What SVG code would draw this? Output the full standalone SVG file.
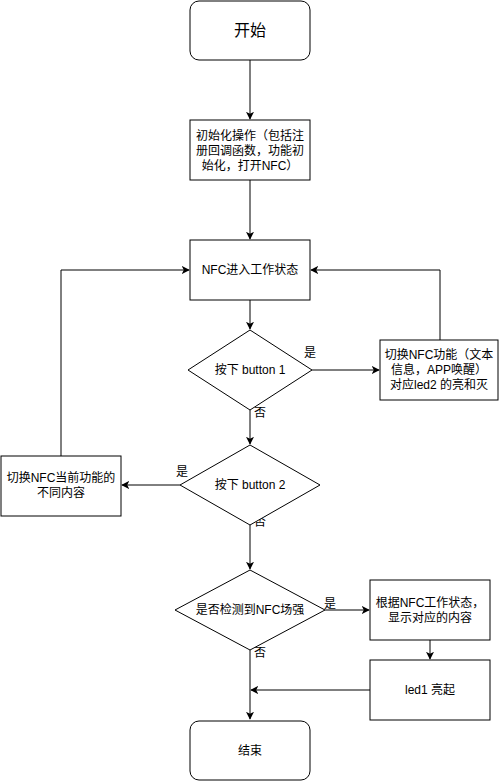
<svg xmlns="http://www.w3.org/2000/svg" width="501" height="781" viewBox="0 0 501 781">
<style>
.s{fill:#fff;stroke:#000;stroke-width:1}
.t{font-family:"Liberation Sans","Noto Sans CJK SC",sans-serif;font-size:12px;fill:#000;text-anchor:middle}
.c{fill:none;stroke:#000;stroke-width:1}
</style>
<defs>
<marker id="a" viewBox="0 0 10 10" refX="9" refY="5" markerWidth="8" markerHeight="8" markerUnits="userSpaceOnUse" orient="auto">
<path d="M0,0 L10,5 L0,10 L2.5,5 Z" fill="#000"/>
</marker>
</defs>
<g id="connectors">
<path class="c" d="M250,60 V119" marker-end="url(#a)"/>
<path class="c" d="M250,180 V239" marker-end="url(#a)"/>
<path class="c" d="M250,300 V329" marker-end="url(#a)"/>
<path class="c" d="M312,370 H379" marker-end="url(#a)"/>
<path class="c" d="M440,340 V270 H311" marker-end="url(#a)"/>
<path class="c" d="M250,410 V444" marker-end="url(#a)"/>
<path class="c" d="M180,485 H122" marker-end="url(#a)"/>
<path class="c" d="M61,456 V270 H189" marker-end="url(#a)"/>
<path class="c" d="M250,525 V569" marker-end="url(#a)"/>
<path class="c" d="M325,610 H369" marker-end="url(#a)"/>
<path class="c" d="M430,640 V659" marker-end="url(#a)"/>
<path class="c" d="M370,690 H251" marker-end="url(#a)"/>
<path class="c" d="M250,650 V719" marker-end="url(#a)"/>
<text class="t" x="310" y="357">是</text>
<text class="t" x="260" y="417">否</text>
<text class="t" x="182" y="476">是</text>
<text class="t" x="260" y="526">否</text>
<text class="t" x="330" y="608">是</text>
<text class="t" x="260" y="657">否</text>
</g>
<g id="start">
<rect class="s" x="190" y="1" width="120" height="59" rx="9"/>
<text class="t" x="250" y="36" style="font-size:16px">开始</text>
</g>
<g id="init">
<rect class="s" x="190" y="120" width="120" height="60"/>
<text class="t" x="250" y="140">初始化操作（包括注</text>
<text class="t" x="250" y="155">册回调函数，功能初</text>
<text class="t" x="250" y="170">始化，打开NFC）</text>
</g>
<g id="nfc">
<rect class="s" x="190" y="240" width="120" height="60"/>
<text class="t" x="250" y="274">NFC进入工作状态</text>
</g>
<g id="btn1">
<path class="s" d="M250,330 L312,370 L250,410 L188,370 Z"/>
<text class="t" x="250" y="374">按下 button 1</text>
</g>
<g id="switch1">
<rect class="s" x="380" y="340" width="118" height="60"/>
<text class="t" x="439" y="359">切换NFC功能（文本</text>
<text class="t" x="439" y="374">信息，APP唤醒）</text>
<text class="t" x="439" y="389">对应led2 的亮和灭</text>
</g>
<g id="btn2">
<path class="s" d="M250,445 L320,485 L250,525 L180,485 Z"/>
<text class="t" x="250" y="489">按下 button 2</text>
</g>
<g id="switch2">
<rect class="s" x="1" y="456" width="120" height="60"/>
<text class="t" x="61" y="482">切换NFC当前功能的</text>
<text class="t" x="61" y="497">不同内容</text>
</g>
<g id="detect">
<path class="s" d="M250,570 L325,610 L250,650 L175,610 Z"/>
<text class="t" x="250" y="614">是否检测到NFC场强</text>
</g>
<g id="show">
<rect class="s" x="370" y="580" width="120" height="60"/>
<text class="t" x="430" y="607">根据NFC工作状态，</text>
<text class="t" x="430" y="622">显示对应的内容</text>
</g>
<g id="led1">
<rect class="s" x="370" y="660" width="120" height="60"/>
<text class="t" x="430" y="694">led1 亮起</text>
</g>
<g id="end">
<rect class="s" x="190" y="721" width="120" height="59" rx="9"/>
<text class="t" x="250" y="755">结束</text>
</g>
</svg>
